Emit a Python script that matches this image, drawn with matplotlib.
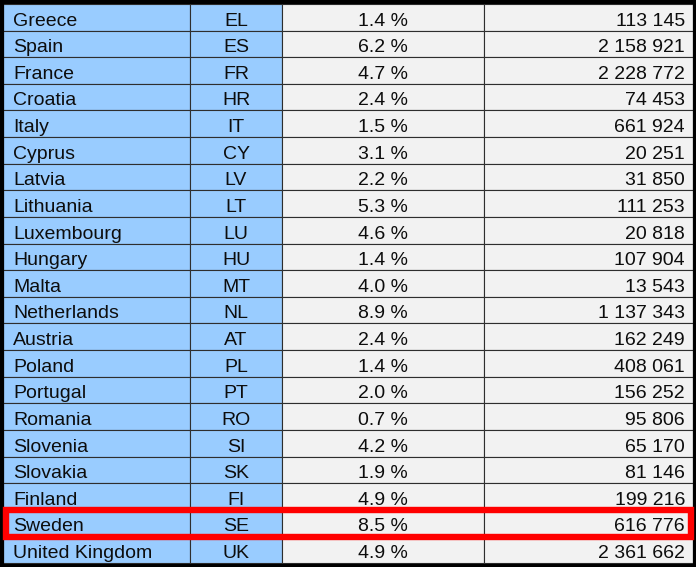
import matplotlib
matplotlib.use("Agg")
import matplotlib.pyplot as plt
from matplotlib.patches import Rectangle

countries = ["Greece", "Spain", "France", "Croatia", "Italy", "Cyprus", "Latvia",
             "Lithuania", "Luxembourg", "Hungary", "Malta", "Netherlands", "Austria",
             "Poland", "Portugal", "Romania", "Slovenia", "Slovakia", "Finland",
             "Sweden", "United Kingdom"]
codes = ["EL", "ES", "FR", "HR", "IT", "CY", "LV", "LT", "LU", "HU", "MT", "NL",
         "AT", "PL", "PT", "RO", "SI", "SK", "FI", "SE", "UK"]
shares = [1.4, 6.2, 4.7, 2.4, 1.5, 3.1, 2.2, 5.3, 4.6, 1.4, 4.0, 8.9, 2.4, 1.4,
          2.0, 0.7, 4.2, 1.9, 4.9, 8.5, 4.9]
counts = [113145, 2158921, 2228772, 74453, 661924, 20251, 31850, 111253, 20818,
          107904, 13543, 1137343, 162249, 408061, 156252, 95806, 65170, 81146,
          199216, 616776, 2361662]
highlight = "SE"

W, H = 696, 567
fig = plt.figure(figsize=(W / 100, H / 100), dpi=100)
ax = fig.add_axes([0, 0, 1, 1])
ax.set_xlim(0, W)
ax.set_ylim(H, 0)
ax.axis("off")

col_edges = [3, 190, 282, 484, 693]
top, bottom = 4, 563
n = len(countries)
rh = (bottom - top) / n
blue = "#99CCFF"
gray = "#F2F2F2"
font = dict(family="Liberation Sans", fontsize=14.0, color="#0d0d0d")

def fmt(v):
    return f"{v:,}".replace(",", " ")

for i in range(n):
    y0 = top + i * rh
    fills = [blue, blue, gray, gray]
    for j in range(4):
        ax.add_patch(Rectangle((col_edges[j], y0), col_edges[j + 1] - col_edges[j], rh,
                               facecolor=fills[j], edgecolor="#2e2e2e", lw=0.8))
    yb = y0 + rh - 5.0
    ax.text(col_edges[0] + 10, yb, countries[i], ha="left", va="baseline", **font)
    ax.text((col_edges[1] + col_edges[2]) / 2, yb, codes[i], ha="center", va="baseline", **font)
    ax.text((col_edges[2] + col_edges[3]) / 2, yb, f"{shares[i]:.1f} %", ha="center", va="baseline", **font)
    ax.text(col_edges[4] - 8, yb, fmt(counts[i]), ha="right", va="baseline", **font)

# outer black frame
ax.add_patch(Rectangle((1.5, 1.5), W - 3, H - 3, facecolor="none", edgecolor="black", lw=3.0))

# highlight box
k = codes.index(highlight)
y0 = top + k * rh
ax.add_patch(Rectangle((5.5, y0 + 0.5), 685, rh + 0.5, facecolor="none",
                       edgecolor="#FF0000", lw=4.6, joinstyle="miter"))

fig.savefig("out.png", dpi=100)
